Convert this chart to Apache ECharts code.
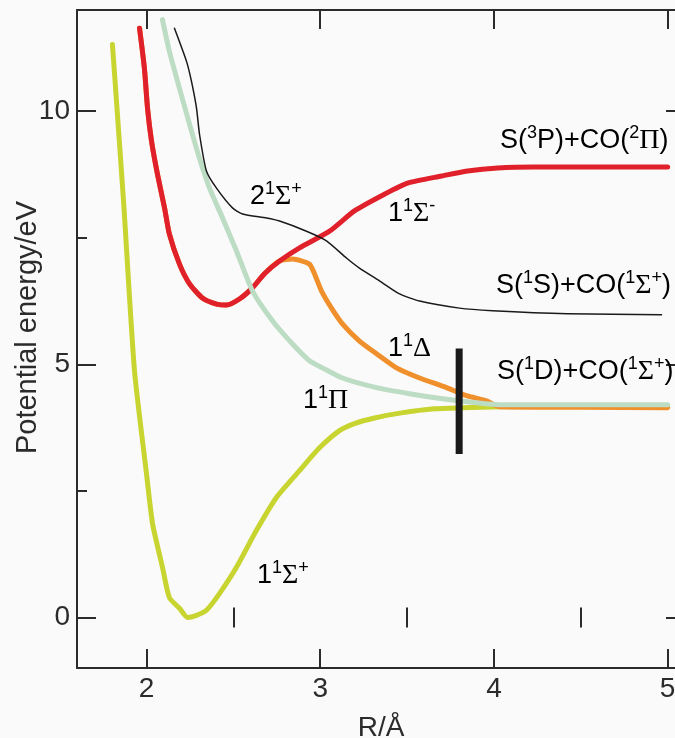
<!DOCTYPE html>
<html>
<head>
<meta charset="utf-8">
<script src="https://cdn.jsdelivr.net/npm/echarts/dist/echarts.min.js"></script>
<style>
    html, body { margin: 0; padding: 0; background: #fafafa; }
    #pes-chart { width: 675px; height: 738px; }
</style>
</head>
<body>
<div id="pes-chart"></div>
<script>
    // R (Å) / energy (eV) pairs
    var groundSigma = [[1.804, 11.32], [1.868, 8.22], [1.931, 4.87], [2.0, 2.84], [2.035, 1.85],
        [2.092, 0.99], [2.132, 0.39], [2.19, 0.18], [2.236, 0.0], [2.288, 0.04], [2.345, 0.14], [2.42, 0.47],
        [2.518, 0.99], [2.633, 1.72], [2.748, 2.37], [2.881, 2.90], [2.996, 3.35], [3.111, 3.69], [3.197, 3.83],
        [3.313, 3.94], [3.468, 4.04], [3.658, 4.12], [3.813, 4.14], [4.044, 4.16], [4.5, 4.17], [5.0, 4.17]];
    var sigmaMinus = [[1.960, 11.64], [1.988, 10.85], [2.006, 10.06], [2.029, 9.41], [2.063, 8.76], [2.104, 8.09],
        [2.132, 7.57], [2.19, 6.98], [2.248, 6.59], [2.322, 6.31], [2.403, 6.19], [2.461, 6.17], [2.535, 6.29],
        [2.610, 6.51], [2.679, 6.79], [2.766, 7.04], [2.881, 7.30], [3.054, 7.63], [3.197, 8.03], [3.370, 8.36],
        [3.503, 8.58], [3.698, 8.72], [3.848, 8.82], [4.021, 8.88], [4.234, 8.90], [5.0, 8.90]];
    var deltaState = [[1.960, 11.64], [1.988, 10.85], [2.006, 10.06], [2.029, 9.41], [2.063, 8.76], [2.104, 8.09],
        [2.132, 7.57], [2.19, 6.98], [2.248, 6.59], [2.322, 6.31], [2.403, 6.19], [2.461, 6.17], [2.535, 6.29],
        [2.610, 6.51], [2.679, 6.79], [2.766, 7.04], [2.841, 7.08], [2.938, 6.98], [2.967, 6.79], [3.007, 6.45],
        [3.065, 6.11], [3.128, 5.80], [3.226, 5.46], [3.324, 5.21], [3.439, 4.93], [3.572, 4.73], [3.727, 4.54],
        [3.842, 4.38], [3.957, 4.28], [4.032, 4.16], [4.5, 4.15], [5.0, 4.14]];
    var piState = [[2.092, 11.81], [2.132, 11.18], [2.19, 10.45], [2.248, 9.74], [2.305, 9.07], [2.363, 8.48],
        [2.438, 7.89], [2.518, 7.24], [2.610, 6.45], [2.725, 5.86], [2.841, 5.40], [2.938, 5.07], [3.013, 4.93],
        [3.128, 4.73], [3.324, 4.54], [3.514, 4.42], [3.704, 4.32], [3.90, 4.24], [4.044, 4.20], [5.0, 4.20]];
    var secondSigma = [[2.161, 11.64], [2.230, 10.99], [2.259, 10.59], [2.288, 10.06], [2.305, 9.55], [2.345, 8.82],
        [2.403, 8.48], [2.495, 8.09], [2.553, 7.97], [2.691, 7.89], [2.766, 7.83], [2.921, 7.63], [3.036, 7.44],
        [3.151, 7.10], [3.226, 6.90], [3.341, 6.65], [3.457, 6.39], [3.572, 6.25], [3.802, 6.11], [3.992, 6.06],
        [4.424, 6.00], [4.965, 5.98]];
    var markerBar = [[3.8, 3.23], [3.8, 5.31]];

    var xMajor = [2, 3, 4, 5];
    var xMinor = [2.5, 3.5, 4.5];
    var yMajor = [0, 5, 10];
    var yMinor = [2.5, 7.5];

    var FONT = "'Liberation Sans', Arial, sans-serif";
    var AXIS_COLOR = '#2b2b2b';

    function axisPair(position, major, minor, min, max, withLabel) {
        var base = {
            type: 'value', position: position, min: min, max: max,
            splitLine: {show: false},
            axisLine: {show: true, onZero: false, lineStyle: {color: AXIS_COLOR, width: 2}}
        };
        var majorAxis = Object.assign({}, base, {
            axisTick: {show: true, inside: true, length: 19, customValues: major, lineStyle: {color: AXIS_COLOR, width: 2}},
            axisLabel: withLabel ? {show: true, customValues: major, margin: 7, fontSize: 28, fontFamily: FONT, color: '#2b2b2b'} : {show: false}
        });
        var minorAxis = Object.assign({}, base, {
            axisLine: {show: false},
            axisTick: {show: true, inside: true, length: 10, customValues: minor, lineStyle: {color: AXIS_COLOR, width: 2}},
            axisLabel: {show: false}
        });
        return [majorAxis, minorAxis];
    }

    var xAxes = axisPair('bottom', xMajor, xMinor, 1.6, 5.1, true)
        .concat(axisPair('top', xMajor, xMinor, 1.6, 5.1, false));
    xAxes[0].name = 'R/Å';
    xAxes[0].nameLocation = 'middle';
    xAxes[0].nameGap = 46;
    xAxes[0].nameMoveOverlap = false;
    xAxes[0].nameTextStyle = {fontSize: 28, fontFamily: FONT, color: '#2b2b2b'};

    var yAxes = axisPair('left', yMajor, yMinor, -1, 12, true)
        .concat(axisPair('right', yMajor, yMinor, -1, 12, false));
    yAxes[0].name = 'Potential energy/eV';
    yAxes[0].nameLocation = 'middle';
    yAxes[0].nameGap = 35;
    yAxes[0].nameMoveOverlap = false;
    yAxes[0].nameTextStyle = {fontSize: 29, fontFamily: FONT, color: '#2b2b2b', padding: [0, 0, 0, 23]};

    function curve(name, data, color, width, z) {
        return {
            name: name, type: 'line', data: data, xAxisIndex: 0, yAxisIndex: 0,
            showSymbol: false, smooth: 0.2, z: z, silent: true,
            lineStyle: {color: color, width: width, cap: 'round', join: 'round'}
        };
    }

    var rich = {
        n: {fontSize: 27, lineHeight: 34, fontFamily: FONT, color: '#222'},
        g: {fontSize: 28, lineHeight: 34, fontFamily: "'Liberation Serif', 'DejaVu Serif', serif", color: '#222'},
        s: {fontSize: 18, lineHeight: 18, verticalAlign: 'top', fontFamily: FONT, color: '#222'}
    };

    function stateLabel(text, x, y) {
        return {
            type: 'text', x: x, y: y, z: 50,
            style: {text: text, rich: rich, verticalAlign: 'top', align: 'left'}
        };
    }

    var chart = echarts.init(document.getElementById('pes-chart'));
    chart.setOption({
        backgroundColor: '#fafafa',
        animation: false,
        grid: {left: 77, top: 10, width: 608, height: 658, containLabel: false, outerBoundsMode: 'none'},
        xAxis: xAxes,
        yAxis: yAxes,
        series: [
            curve('1¹Σ⁺', groundSigma, '#c8d430', 5, 2),
            curve('1¹Δ', deltaState, '#f0902c', 5, 3),
            curve('1¹Σ⁻', sigmaMinus, '#e0202a', 5, 4),
            curve('1¹Π', piState, '#bcdcc4', 5, 5),
            curve('2¹Σ⁺', secondSigma, '#1a1a1a', 1.5, 6),
            {
                type: 'line', data: markerBar, showSymbol: false, z: 10, silent: true,
                lineStyle: {color: '#1a1a1a', width: 7}
            }
        ],
        graphic: [
            stateLabel('{n|2}{s|1}{g|Σ}{s|+}', 250, 180),
            stateLabel('{n|1}{s|1}{g|Σ}{s|-}', 388, 197),
            stateLabel('{n|S(}{s|3}{n|P)+CO(}{s|2}{g|Π}{n|)}', 500, 124),
            stateLabel('{n|S(}{s|1}{n|S)+CO(}{s|1}{g|Σ}{s|+}{n|)}', 496, 269),
            stateLabel('{n|1}{s|1}{g|Δ}', 388, 332),
            stateLabel('{n|S(}{s|1}{n|D)+CO(}{s|1}{g|Σ}{s|+}{n|)}', 497, 355),
            stateLabel('{n|1}{s|1}{g|Π}', 303, 384),
            stateLabel('{n|1}{s|1}{g|Σ}{s|+}', 257, 559)
        ]
    });
</script>
</body>
</html>
